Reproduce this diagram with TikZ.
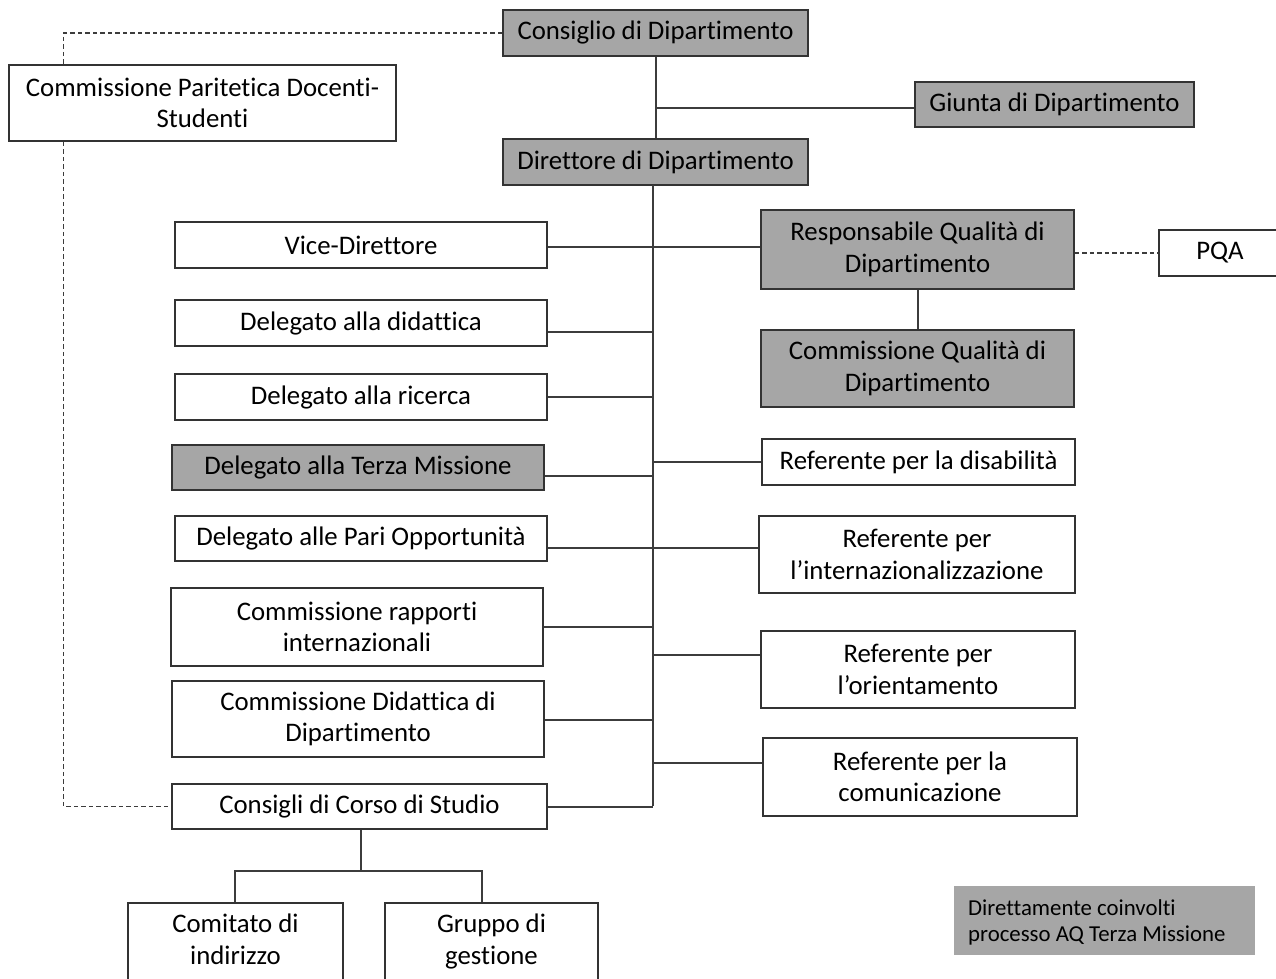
\documentclass[tikz,border=0pt]{standalone}
\usepackage{fontspec}
\setmainfont[Ligatures=NoCommon]{Carlito}
\definecolor{boxgrey}{HTML}{A6A6A6}
\definecolor{edgec}{HTML}{333333}
\definecolor{linec}{HTML}{3C3C3C}
\begin{document}
\begin{tikzpicture}[x=1pt,y=-1pt,
  box/.style={draw=edgec, line width=1.8pt, fill=white, inner sep=0pt, align=center,
    font=\fontsize{26.8}{31.5}\selectfont, text=black},
  gbox/.style={box, fill=boxgrey},
  conn/.style={draw=linec, line width=2pt},
  dconn/.style={draw=linec, line width=1.6pt, dash pattern=on 4.5pt off 3pt},
  sz/.style 2 args={minimum width=#1pt, minimum height=#2pt}]
\useasboundingbox (0,0) rectangle (1276,979);

\node[gbox, sz={305}{46}] (cons) at (655.5,33) {Consiglio di Dipartimento};
\node[box, sz={387}{76}] (cpds) at (202.5,103) {Commissione Paritetica Docenti-\\Studenti};
\node[gbox, sz={279}{45}] (giunta) at (1054.5,104.5) {Giunta di Dipartimento};
\node[gbox, sz={305}{46}] (dir) at (655.5,162) {Direttore di Dipartimento};
\node[box, sz={372}{46}] (vice) at (361,245) {Vice-Direttore};
\node[gbox, sz={313}{79}] (rq) at (917.5,249.5) {Responsabile Qualità di\\Dipartimento};
\node[box, sz={122}{46}] (pqa) at (1220,253) {PQA};
\node[gbox, sz={313}{77}] (cq) at (917.5,368.5) {Commissione Qualità di\\Dipartimento};
\node[box, sz={372}{46}] (did) at (361,323) {Delegato alla didattica};
\node[box, sz={372}{46}] (ric) at (361,397) {Delegato alla ricerca};
\node[gbox, sz={372}{45}] (tm) at (358,467.5) {Delegato alla Terza Missione};
\node[box, sz={313}{46}] (dis) at (918.5,462) {Referente per la disabilità};
\node[box, sz={372}{45}] (pari) at (361,538.5) {Delegato alle Pari Opportunità};
\node[box, sz={316}{77}] (intl) at (917,554.5) {Referente per\\l’internazionalizzazione};
\node[box, sz={372}{78}] (cri) at (357,627) {Commissione rapporti\\internazionali};
\node[box, sz={314}{77}] (ori) at (918,669.5) {Referente per\\l’orientamento};
\node[box, sz={372}{76}] (cdd) at (358,719) {Commissione Didattica di\\Dipartimento};
\node[box, sz={314}{78}] (com) at (920,777) {Referente per la\\comunicazione};
\node[box, sz={375}{45}] (ccs) at (359.5,806.5) {Consigli di Corso di Studio};
\node[box, sz={215}{95}] (cdi) at (235.5,950.5) {};
\node[font=\fontsize{26.8}{31.5}\selectfont, align=center, inner sep=0pt] (cdit) at (235.5,942) {Comitato di\strut\\indirizzo\strut};
\node[box, sz={213}{95}] (gdg) at (491.5,950.5) {};
\node[font=\fontsize{26.8}{31.5}\selectfont, align=center, inner sep=0pt] (gdgt) at (491.5,942) {Gruppo di\strut\\gestione\strut};
\node[fill=boxgrey, sz={301}{69}, inner sep=0pt] (leg) at (1104.5,920.5) {};
\node[anchor=west, inner sep=0pt, align=left, font=\fontsize{22.8}{26}\selectfont] (legt) at (968,923) {Direttamente coinvolti\strut\\processo AQ Terza Missione\strut};

% trunk
\coordinate (tt) at (653,185);
\coordinate (tb) at (653,806);
\draw[conn] (cons.south) -- (dir.north);
\coordinate (jg) at (655.5,108);
\draw[conn] (jg) -- (jg -| giunta.west);
\draw[conn] (tt) -- (tb);

% branches
\draw[conn] ([yshift=-1.5pt]vice.east) -- ([yshift=-1.5pt]vice.east -| rq.west);
\draw[conn] ([yshift=-9pt]did.east) -- ([yshift=-9pt]did.east -| tt);
\draw[conn] (ric.east) -- (ric.east -| tt);
\draw[conn] ([yshift=-8.5pt]tm.east) -- ([yshift=-8.5pt]tm.east -| tt);
\draw[conn] (dis.west) -- (dis.west -| tt);
\draw[conn] ([yshift=-9.5pt]pari.east) -- ([yshift=-9.5pt]pari.east -| intl.west);
\draw[conn] (cri.east) -- (cri.east -| tt);
\draw[conn] ([yshift=14.5pt]ori.west) -- ([yshift=14.5pt]ori.west -| tt);
\draw[conn] ([yshift=-1pt]cdd.east) -- ([yshift=-1pt]cdd.east -| tt);
\draw[conn] ([yshift=14pt]com.west) -- ([yshift=14pt]com.west -| tt);
\draw[conn] (ccs.east) -- (ccs.east -| tb);

% quality
\draw[conn] (rq.south) -- (cq.north);
\draw[dconn] ([yshift=-3.5pt]rq.east) -- ([yshift=-3.5pt]rq.east -| pqa.west);

% dashed left loop
\coordinate (dl1) at (63.5,33);
\coordinate (dl2) at (63.5,806.5);
\draw[dconn] (cons.west) -- (dl1) -- (dl1 |- cpds.north);
\draw[dconn] (dl1 |- cpds.south) -- (dl2) -- (ccs.west);

% bottom tree
\coordinate (bt) at (361,871);
\coordinate (bl) at (235,871);
\coordinate (br) at (482,871);
\draw[conn] (ccs.south -| bt) -- (bt);
\draw[conn] (bl |- cdi.north) -- (bl) -- (br) -- (br |- gdg.north);
\end{tikzpicture}
\end{document}
